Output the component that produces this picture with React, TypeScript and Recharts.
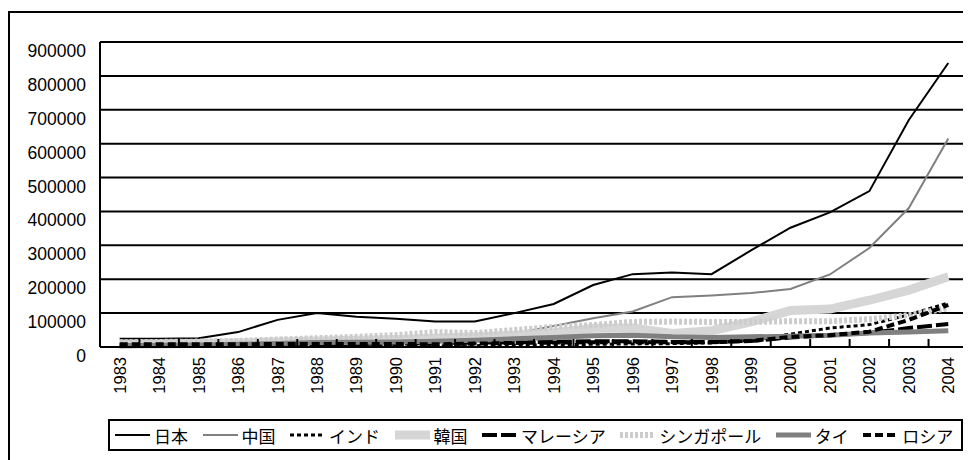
import { LineChart, Line, XAxis, YAxis, CartesianGrid } from "recharts";

// #region data
const years = [
  "1983", "1984", "1985", "1986", "1987", "1988", "1989", "1990", "1991", "1992", "1993",
  "1994", "1995", "1996", "1997", "1998", "1999", "2000", "2001", "2002", "2003", "2004",
];
const japan = [24000, 24000, 26000, 44000, 80000, 100000, 89000, 83000, 75000, 75000, 100000, 127000, 183000, 215000, 220000, 215000, 285000, 352000, 397000, 460000, 670000, 838000];
const china = [8000, 10000, 12000, 14000, 16000, 18000, 20000, 22000, 25000, 30000, 40000, 62000, 85000, 105000, 147000, 152000, 159000, 171000, 214000, 292000, 410000, 615000];
const india = [3000, 3000, 3000, 4000, 4000, 4000, 4000, 4000, 3000, 4000, 5000, 6000, 8000, 9000, 10000, 12000, 20000, 38000, 56000, 66000, 95000, 130000];
const korea = [8000, 9000, 10000, 12000, 15000, 18000, 20000, 22000, 26000, 30000, 35000, 42000, 55000, 56000, 40000, 48000, 74000, 108000, 112000, 138000, 168000, 207000];
const malaysia = [5000, 5000, 5000, 6000, 7000, 8000, 9000, 10000, 12000, 13000, 14000, 15000, 17000, 17000, 15000, 15000, 18000, 28000, 35000, 41000, 56000, 68000];
const singapore = [14000, 15000, 16000, 18000, 22000, 26000, 30000, 35000, 44000, 41000, 50000, 59000, 65000, 74000, 75000, 74000, 74000, 76000, 76000, 82000, 94000, 115000];
const thailand = [4000, 5000, 6000, 8000, 10000, 13000, 14000, 15000, 17000, 20000, 24000, 28000, 33000, 35000, 30000, 28000, 30000, 32000, 35000, 41000, 44000, 48000];
const russia = [8000, 8000, 8000, 8000, 9000, 9000, 9000, 9000, 8000, 10000, 12000, 13000, 14000, 14000, 14000, 14000, 18000, 30000, 35000, 45000, 80000, 124000];
const yTicks = [0, 100000, 200000, 300000, 400000, 500000, 600000, 700000, 800000, 900000];
// #endregion

const data = years.map((year, i) => ({
  year,
  japan: japan[i],
  china: china[i],
  india: india[i],
  korea: korea[i],
  malaysia: malaysia[i],
  singapore: singapore[i],
  thailand: thailand[i],
  russia: russia[i],
}));

const FONT = "'Liberation Sans', Arial, 'Noto Sans CJK JP', sans-serif";

const series = [
  { key: "japan", name: "日本", stroke: "#000000", width: 2, dash: undefined },
  { key: "china", name: "中国", stroke: "#808080", width: 2, dash: undefined },
  { key: "india", name: "インド", stroke: "#000000", width: 3, dash: "4 3" },
  { key: "korea", name: "韓国", stroke: "#d6d6d6", width: 9, dash: undefined },
  { key: "malaysia", name: "マレーシア", stroke: "#000000", width: 4, dash: "15 4" },
  { key: "singapore", name: "シンガポール", stroke: "#cccccc", width: 6, dash: "3 2" },
  { key: "thailand", name: "タイ", stroke: "#808080", width: 5, dash: undefined },
  { key: "russia", name: "ロシア", stroke: "#000000", width: 4, dash: "8 4" },
];

const CHART_W = 963;
const CHART_H = 452;
const Y_W = 92;
const M_RIGHT = 3;
const BAND = (CHART_W - Y_W - M_RIGHT) / years.length;

const YTick = (props: any) => {
  const { x, y, payload } = props;
  return (
    <text x={x} y={y} dy={9} textAnchor="end" dominantBaseline="central" fontSize={17.5} fill="#000" fontFamily={FONT}>
      {payload.value}
    </text>
  );
};

const XTick = (props: any) => {
  const { x, y, payload, index } = props;
  const axisY = y - 10;
  return (
    <g>
      {index > 0 && (
        <line x1={x - BAND / 2} x2={x - BAND / 2} y1={axisY} y2={axisY - 8} stroke="#000" strokeWidth={2} />
      )}
      <text
        transform={`translate(${x},${y}) rotate(-90)`}
        textAnchor="end"
        dominantBaseline="central"
        fontSize={16.5}
        fill="#000"
        fontFamily={FONT}
      >
        {payload.value}
      </text>
    </g>
  );
};

function LegendBox() {
  return (
    <div
      style={{
        position: "absolute",
        left: 100,
        top: 411,
        width: 855,
        height: 32,
        boxSizing: "border-box",
        border: "2px solid #000",
        display: "flex",
        alignItems: "center",
        paddingLeft: 5,
        gap: 14.5,
        fontFamily: FONT,
        fontSize: 17,
        color: "#000",
        whiteSpace: "nowrap",
      }}
    >
      {series.map((s) => (
        <div key={s.key} style={{ display: "flex", alignItems: "center", gap: 4 }}>
          <svg width={35} height={12}>
            <line x1={0} x2={35} y1={6} y2={6} stroke={s.stroke} strokeWidth={s.width} strokeDasharray={s.dash} />
          </svg>
          <span>{s.name}</span>
        </div>
      ))}
    </div>
  );
}

export default function App() {
  return (
    <div style={{ position: "relative", width: CHART_W, height: CHART_H }}>
      <div
        style={{
          position: "absolute",
          left: 0,
          top: 3,
          width: 960,
          height: 470,
          boxSizing: "border-box",
          border: "2px solid #000",
        }}
      />
      <LineChart
        width={CHART_W}
        height={CHART_H}
        data={data}
        margin={{ top: 34, right: M_RIGHT, bottom: 53, left: 0 }}
        style={{ position: "absolute", left: 0, top: 0 }}
      >
        <CartesianGrid vertical={false} stroke="#000" strokeWidth={2} />
        <XAxis
          dataKey="year"
          interval={0}
          height={60}
          padding={{ left: BAND / 2, right: BAND / 2 }}
          axisLine={{ stroke: "#000", strokeWidth: 2 }}
          tickLine={false}
          tickSize={4}
          tickMargin={6}
          tick={<XTick />}
        />
        <YAxis
          width={Y_W}
          domain={[0, 900000]}
          ticks={yTicks}
          interval={0}
          axisLine={{ stroke: "#000", strokeWidth: 2 }}
          tickLine={false}
          tickSize={6}
          tickMargin={8}
          tick={<YTick />}
        />
        {series.map((s) => (
          <Line
            key={s.key}
            dataKey={s.key}
            name={s.name}
            type="linear"
            stroke={s.stroke}
            strokeWidth={s.width}
            strokeDasharray={s.dash}
            dot={false}
            activeDot={false}
            isAnimationActive={false}
          />
        ))}
      </LineChart>
      <LegendBox />
    </div>
  );
}
